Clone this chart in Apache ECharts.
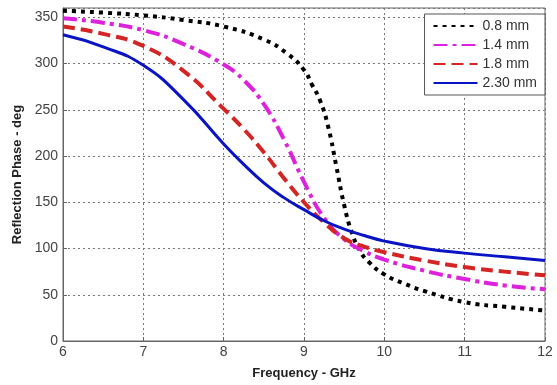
<!DOCTYPE html>
<html>
<head>
<meta charset="utf-8">
<script src="https://cdn.jsdelivr.net/npm/echarts@6/dist/echarts.min.js"></script>
<style>
  html, body { margin: 0; padding: 0; background: #fff; }
  #main { width: 557px; height: 385px; }
</style>
</head>
<body>
<div id="main"></div>
<script>
// frequency points (GHz) and phase values (deg)
var freq08 = [6, 6.5, 7, 7.5, 8, 8.5, 8.8, 9, 9.1, 9.2, 9.3, 9.4, 9.5, 9.6, 9.7, 9.8, 10, 10.25, 10.5, 11, 11.5, 12]
var phase08 = [357, 355, 352, 347, 340, 326, 310, 293, 277, 260, 232, 190, 147, 116, 97, 86, 72, 62, 54, 42, 37, 33]

var freqOther = [6, 6.5, 7, 7.5, 8, 8.25, 8.5, 8.75, 9, 9.25, 9.5, 9.75, 10, 10.5, 11, 11.5, 12]
var phase14 = [349, 344, 336, 321, 299, 282, 256, 218, 172, 133, 110, 97, 88, 76, 67, 60, 56]
var phase18 = [340, 332, 319, 292, 251, 229, 204, 176, 150, 128, 111, 102, 96, 87, 80, 75, 71]
var phase230 = [331, 318, 298, 261, 213, 191, 171, 155, 142, 130, 121, 114, 108, 100, 95, 91, 87]

var seriesNames = ['0.8 mm', '1.4 mm', '1.8 mm', '2.30 mm']

function pairs(xs, ys) {
  return xs.map(function (x, i) { return [x, ys[i]] })
}

var myChart = echarts.init(document.getElementById('main'))

var font = 'Liberation Sans, Arial, sans-serif'

var option = {
  animation: false,
  textStyle: { fontFamily: font },
  grid: {
    left: 63,
    right: 12,
    top: 8,
    bottom: 42,
    show: true,
    borderColor: '#666',
    borderWidth: 1,
  },
  legend: {
    data: seriesNames,
    orient: 'vertical',
    right: 12,
    top: 14,
    itemWidth: 44,
    itemHeight: 12,
    itemGap: 5,
    padding: [5, 8, 5, 8],
    backgroundColor: '#fff',
    borderColor: '#555',
    borderWidth: 1,
    borderRadius: 0,
    itemStyle: { color: 'transparent', borderWidth: 0 },
    textStyle: { fontSize: 14, color: '#333', fontFamily: font },
  },
  xAxis: {
    type: 'value',
    min: 6,
    max: 12,
    interval: 1,
    name: 'Frequency - GHz',
    nameLocation: 'middle',
    nameGap: 26,
    nameTextStyle: { fontSize: 13, fontWeight: 'bold', color: '#222' },
    axisLine: { lineStyle: { color: '#666' } },
    axisTick: { inside: true, length: 4, lineStyle: { color: '#666' } },
    axisLabel: { fontSize: 14, color: '#444', margin: 4 },
    splitLine: { show: true, lineStyle: { type: [2, 3], color: '#777' } },
  },
  yAxis: {
    type: 'value',
    min: 0,
    max: 360,
    interval: 50,
    name: 'Reflection Phase - deg',
    nameLocation: 'middle',
    nameGap: 35,
    nameTextStyle: { fontSize: 13, fontWeight: 'bold', color: '#222' },
    axisLine: { show: true, lineStyle: { color: '#666' } },
    axisTick: { show: true, inside: true, length: 4, lineStyle: { color: '#666' } },
    axisLabel: {
      fontSize: 14,
      color: '#444',
      margin: 5,
      formatter: function (v) { return v % 50 === 0 ? v : '' },
    },
    splitLine: { show: true, lineStyle: { type: [2, 3], color: '#777' } },
  },
  series: [
    {
      name: '0.8 mm',
      type: 'line',
      smooth: true,
      symbol: 'none',
      color: '#000',
      lineStyle: { width: 4, type: [4, 5], color: '#000' },
      data: pairs(freq08, phase08),
    },
    {
      name: '1.4 mm',
      type: 'line',
      smooth: true,
      symbol: 'none',
      color: '#dd22dd',
      lineStyle: { width: 4, type: [14, 5, 4, 5], color: '#dd22dd' },
      data: pairs(freqOther, phase14),
    },
    {
      name: '1.8 mm',
      type: 'line',
      smooth: true,
      symbol: 'none',
      color: '#d42424',
      lineStyle: { width: 4, type: [12, 6], color: '#d42424' },
      data: pairs(freqOther, phase18),
    },
    {
      name: '2.30 mm',
      type: 'line',
      smooth: true,
      symbol: 'none',
      color: '#0a14c4',
      lineStyle: { width: 3, color: '#0a14c4' },
      data: pairs(freqOther, phase230),
    },
  ],
}

myChart.setOption(option)
</script>
</body>
</html>
